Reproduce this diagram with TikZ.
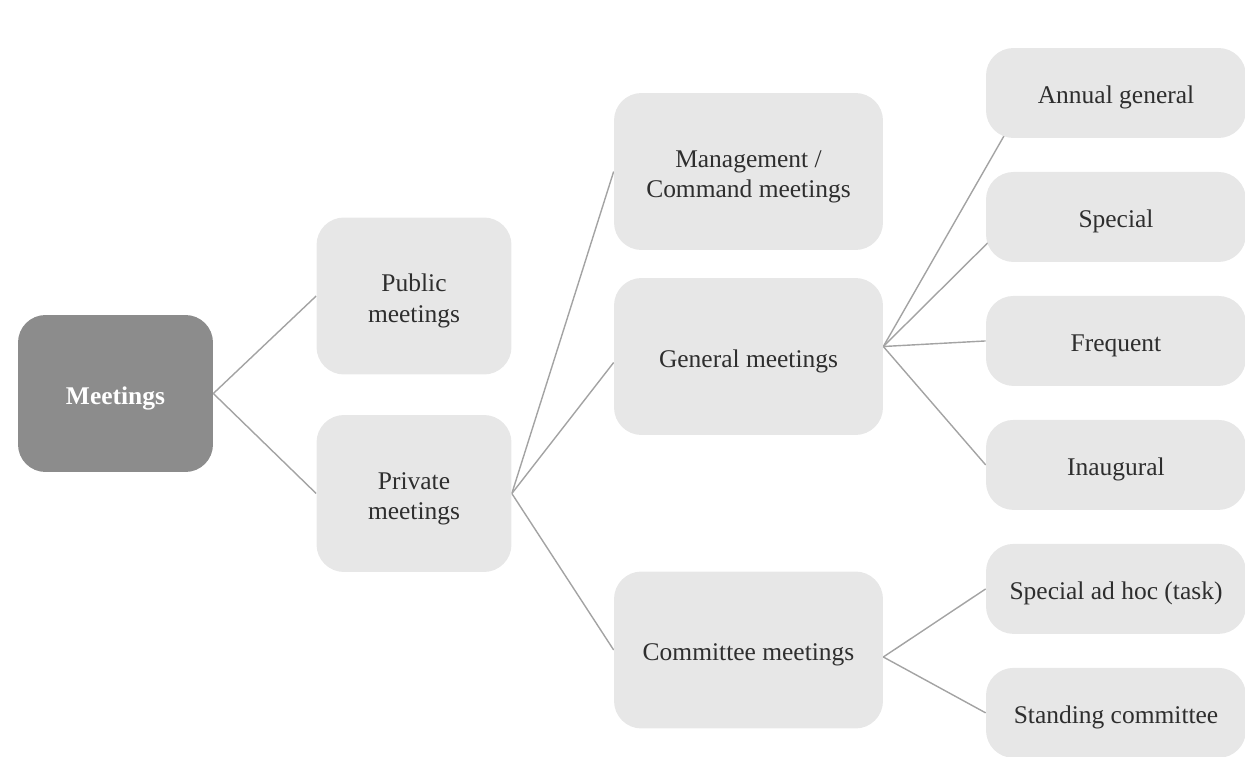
\documentclass[tikz,border=0pt]{standalone}
\usepackage{fontspec}
\setmainfont{Liberation Serif}
\usetikzlibrary{positioning,backgrounds}
\definecolor{boxgray}{HTML}{E7E7E7}
\definecolor{rootgray}{HTML}{8C8C8C}
\definecolor{linegray}{HTML}{A3A3A3}
\definecolor{textgray}{HTML}{2E2E2E}

\begin{document}
\begin{tikzpicture}[
  x=0.02cm, y=-0.02cm,
  node distance=2.48cm,
  font=\fontsize{14.5}{17.4}\selectfont,
  execute at begin node={\rule{0pt}{15.5pt}},
  rootbox/.style={rectangle,rounded corners=0.55cm,fill=rootgray,text=white,font=\fontsize{14.5}{17.4}\selectfont\bfseries,minimum width=3.9cm,minimum height=3.14cm},
  midbox/.style={rectangle,rounded corners=0.55cm,fill=boxgray,text=textgray,align=center,minimum height=3.14cm},
  twoline/.style={execute at begin node={\rule{0pt}{33pt}}},
  leafbox/.style={rectangle,rounded corners=0.55cm,fill=boxgray,text=textgray,minimum width=5.2cm,minimum height=1.8cm},
  link/.style={draw=linegray,line width=0.8pt}]
\useasboundingbox (0,0) rectangle (1245,757);

\node[rootbox] (meetings) at (115.5,393.5) {Meetings};
\node[midbox,twoline,minimum width=3.9cm] (public) at (414,296) {Public\\meetings};
\node[midbox,twoline,minimum width=3.9cm] (private) at (414,493.5) {Private\\meetings};
\node[midbox,twoline,minimum width=5.38cm] (management) at (748.5,171.5) {Management /\\Command meetings};
\node[midbox,minimum width=5.38cm] (general) at (748.5,356.5) {General meetings};
\node[midbox,minimum width=5.38cm] (committee) at (748.5,650) {Committee meetings};
\node[leafbox] (annual) at (1116,93) {Annual general};
\node[leafbox,below of=annual] (special) {Special};
\node[leafbox,below of=special] (frequent) {Frequent};
\node[leafbox,below of=frequent] (inaugural) {Inaugural};
\node[leafbox,below of=inaugural] (adhoc) {Special ad hoc (task)};
\node[leafbox,below of=adhoc] (standing) {Standing committee};

\begin{pgfonlayer}{background}
\draw[link] (meetings.east) -- (public.west);
\draw[link] (meetings.east) -- (private.west);
\draw[link] (private.east) -- (management.west);
\draw[link] (private.east) -- ([yshift=-0.12cm]general.west);
\draw[link] (private.east) -- (committee.west);
\draw[link] ([yshift=0.2cm]general.east) -- ([xshift=0.4cm,yshift=-0.8cm]annual.west);
\draw[link] ([yshift=0.2cm]general.east) -- ([xshift=0.2cm,yshift=-0.36cm]special.west);
\draw[link] ([yshift=0.2cm]general.east) -- (frequent.west);
\draw[link] ([yshift=0.2cm]general.east) -- (inaugural.west);
\draw[link] ([yshift=-0.14cm]committee.east) -- (adhoc.west);
\draw[link] ([yshift=-0.14cm]committee.east) -- (standing.west);
\end{pgfonlayer}
\end{tikzpicture}
\end{document}
